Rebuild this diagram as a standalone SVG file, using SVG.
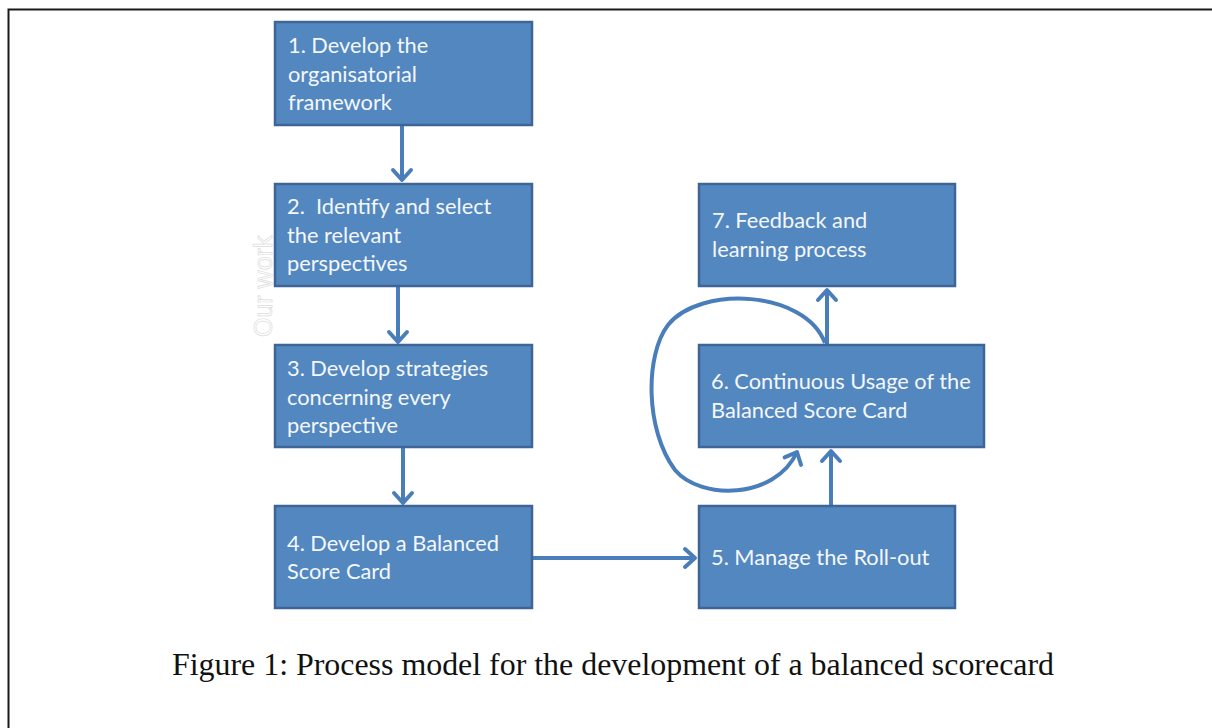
<svg xmlns="http://www.w3.org/2000/svg" width="1212" height="728" viewBox="0 0 1212 728">
  <style>
    .box { fill: #5387C0; stroke: #3E6597; stroke-width: 2.5; }
    .lbl { font-family: Lato, "Open Sans", "Liberation Sans", sans-serif; font-size: 21.8px; fill: #F4F7FB; }
    .conn { fill: none; stroke: #4A7EBB; stroke-width: 4; marker-end: url(#chev); }
    .caption { font-family: "Liberation Serif", "Times New Roman", serif; font-size: 32px; fill: #111; }
    .wm { font-family: "Liberation Sans", Arial, sans-serif; font-size: 25px; fill: #ffffff; stroke: #dcdcdc; stroke-width: 0.7; }
  </style>
  <defs>
    <marker id="chev" markerUnits="userSpaceOnUse" markerWidth="26" markerHeight="26" viewBox="-13 -13 26 26" refX="0" refY="0" orient="auto">
      <path d="M -10,-9 L 0,0 L -10,9" fill="none" stroke="#4A7EBB" stroke-width="4" stroke-linecap="round" stroke-linejoin="round"/>
    </marker>
  </defs>

  <rect width="1212" height="728" fill="#ffffff"/>
  <!-- page frame -->
  <path d="M 8.5,728 L 8.5,9.5 L 1212,9.5" fill="none" stroke="#1a1a1a" stroke-width="2"/>

  <!-- faint side watermark -->
  <text class="wm" transform="translate(272,337) rotate(-90)">Our work</text>

  <g id="connectors">
    <path class="conn" d="M 402,125 L 402,180"/>
    <path class="conn" d="M 398,287 L 398,342"/>
    <path class="conn" d="M 403,448 L 403,503"/>
    <path class="conn" d="M 532,558 L 695,558"/>
    <path class="conn" d="M 831,506 L 831,451"/>
    <path class="conn" d="M 827,345 L 827,290"/>
    <path class="conn" d="M 825,343 C 805,290 700,285 668,325 C 645,355 645,430 675,470 C 700,500 775,500 797,452"/>
  </g>

  <g id="step1">
    <rect class="box" x="275" y="22" width="257" height="103"/>
    <text class="lbl" x="288" y="53">1. Develop the</text>
    <text class="lbl" x="288" y="82">organisatorial</text>
    <text class="lbl" x="288" y="110">framework</text>
  </g>
  <g id="step2">
    <rect class="box" x="275" y="184" width="257" height="102"/>
    <text class="lbl" x="287" y="214" xml:space="preserve">2.  Identify and select</text>
    <text class="lbl" x="287" y="243">the relevant</text>
    <text class="lbl" x="287" y="271">perspectives</text>
  </g>
  <g id="step3">
    <rect class="box" x="275" y="345" width="257" height="102"/>
    <text class="lbl" x="287" y="376">3. Develop strategies</text>
    <text class="lbl" x="287" y="405">concerning every</text>
    <text class="lbl" x="287" y="433">perspective</text>
  </g>
  <g id="step4">
    <rect class="box" x="275" y="506" width="257" height="102"/>
    <text class="lbl" x="287" y="551">4. Develop a Balanced</text>
    <text class="lbl" x="287" y="579">Score Card</text>
  </g>
  <g id="step5">
    <rect class="box" x="699" y="506" width="256" height="102"/>
    <text class="lbl" x="711" y="565">5. Manage the Roll-out</text>
  </g>
  <g id="step6">
    <rect class="box" x="699" y="345" width="285" height="102"/>
    <text class="lbl" x="711" y="389">6. Continuous Usage of the</text>
    <text class="lbl" x="711" y="418">Balanced Score Card</text>
  </g>
  <g id="step7">
    <rect class="box" x="699" y="184" width="256" height="102"/>
    <text class="lbl" x="712" y="228">7. Feedback and</text>
    <text class="lbl" x="712" y="257">learning process</text>
  </g>

  <text class="caption" x="172" y="675" textLength="882" lengthAdjust="spacingAndGlyphs">Figure 1: Process model for the development of a balanced scorecard</text>
</svg>
